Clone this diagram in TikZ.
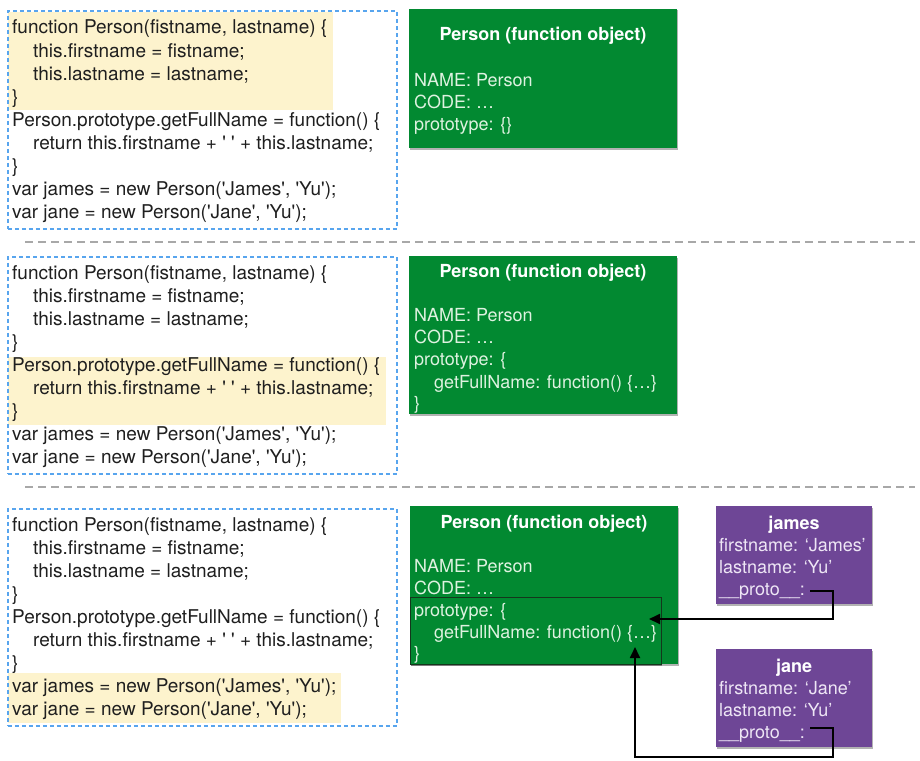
\documentclass[tikz,border=0pt]{standalone}
\usepackage{fontspec}
\newfontfamily\hv{TeX Gyre Heros}
\usetikzlibrary{arrows.meta,shadows}
\definecolor{pgreen}{RGB}{2,137,49}
\definecolor{ppurple}{RGB}{110,70,150}
\definecolor{hlyellow}{RGB}{253,243,205}
\definecolor{codeblue}{RGB}{88,165,238}
\definecolor{sepgray}{RGB}{168,168,168}
\definecolor{gtextc}{RGB}{222,242,224}
\definecolor{ptextc}{RGB}{238,230,245}
\definecolor{protoedge}{RGB}{20,55,28}
\tikzset{
  codebox/.style={rectangle, draw=codeblue, line width=1.8pt, dash pattern=on 4pt off 3pt, anchor=north west, inner sep=0pt},
  hlbox/.style={rectangle, fill=hlyellow, draw=none, anchor=north west, inner sep=0pt},
  codeline/.style={anchor=base west, inner sep=0pt, font=\hv\fontsize{19}{23}\selectfont, text=black!88},
  softshadow/.style={drop shadow={shadow xshift=0.8pt, shadow yshift=-1.3pt, opacity=0.3, fill=black}},
  gbox/.style={rectangle, fill=pgreen, anchor=north west, inner sep=0pt, softshadow},
  pbox/.style={rectangle, fill=ppurple, anchor=north west, inner sep=0pt, softshadow},
  boxtitle/.style={anchor=base, inner sep=0pt, font=\hv\bfseries\fontsize{18}{22}\selectfont, text=white},
  gtext/.style={anchor=base west, inner sep=0pt, font=\hv\fontsize{18}{22}\selectfont, text=gtextc},
  ptext/.style={anchor=base west, inner sep=0pt, font=\hv\fontsize{18}{22}\selectfont, text=ptextc},
  protobox/.style={rectangle, fill=pgreen, draw=protoedge, line width=0.9pt, anchor=north west, inner sep=0pt, softshadow},
  sepline/.style={draw=sepgray, line width=2.4pt, dash pattern=on 8pt off 5pt},
  ptr/.style={draw=black, line width=1.8pt, -{Triangle[length=11pt,width=10pt]}},
}
\newcommand\mycodelines[2]{%
  \node[codeline] (#1a) at (12,#2) {function Person(fistname, lastname) \{};
  \node[codeline] (#1b) at (33,#2+23.1) {this.firstname = fistname;};
  \node[codeline] (#1c) at (33,#2+46.2) {this.lastname = lastname;};
  \node[codeline] (#1d) at (12,#2+69.3) {\}};
  \node[codeline] (#1e) at (12,#2+92.4) {Person.prototype.getFullName = function() \{};
  \node[codeline] (#1f) at (33,#2+115.5) {return this.firstname + ' ' + this.lastname;};
  \node[codeline] (#1g) at (12,#2+138.6) {\}};
  \node[codeline] (#1h) at (12,#2+161.7) {var james = new Person('James', 'Yu');};
  \node[codeline] (#1i) at (12,#2+184.8) {var jane = new Person('Jane', 'Yu');};
}
\begin{document}
\begin{tikzpicture}[x=1pt,y=-1pt]
\useasboundingbox (0,0) rectangle (920,760);
\fill[white] (0,0) rectangle (920,760);

% ---------- section 1 ----------
\node[hlbox, minimum width=325pt, minimum height=98pt] (hl1) at (8,12) {};
\node[codebox, minimum width=389pt, minimum height=218pt] (code1) at (7,10) {};
\mycodelines{sa}{34}
\node[gbox, minimum width=268pt, minimum height=139pt] (g1) at (409,9) {};
\node[boxtitle] (g1t) at (543,41) {Person (function object)};
\node[gtext] (g1a) at (414,86) {NAME: Person};
\node[gtext] (g1b) at (414,108) {CODE: …};
\node[gtext] (g1c) at (414,130) {prototype: \{\}};

\coordinate (sep1a) at (25,242);
\coordinate (sep1b) at (915,242);
\draw[sepline] (sep1a) -- (sep1b);

% ---------- section 2 ----------
\node[hlbox, minimum width=378pt, minimum height=68pt] (hl2) at (8,357) {};
\node[codebox, minimum width=389pt, minimum height=217pt] (code2) at (7,256) {};
\mycodelines{sb}{279}
\node[gbox, minimum width=268pt, minimum height=158pt] (g2) at (409,256) {};
\node[boxtitle] (g2t) at (543,277) {Person (function object)};
\node[gtext] (g2a) at (414,321) {NAME: Person};
\node[gtext] (g2b) at (414,343) {CODE: …};
\node[gtext] (g2c) at (414,365) {prototype: \{};
\node[gtext] (g2d) at (434,388) {getFullName: function() \{…\}};
\node[gtext] (g2e) at (414,409) {\}};

\coordinate (sep2a) at (25,487);
\coordinate (sep2b) at (915,487);
\draw[sepline] (sep2a) -- (sep2b);

% ---------- section 3 ----------
\node[hlbox, minimum width=333pt, minimum height=50pt] (hl3) at (8,673) {};
\node[codebox, minimum width=389pt, minimum height=217pt] (code3) at (7,508) {};
\mycodelines{sc}{531}
\node[gbox, minimum width=268pt, minimum height=158pt] (g3) at (410,506) {};
\node[protobox, minimum width=251pt, minimum height=67pt] (proto) at (410,597) {};
\node[boxtitle] (g3t) at (544,528) {Person (function object)};
\node[gtext] (g3a) at (414,572) {NAME: Person};
\node[gtext] (g3b) at (414,594) {CODE: …};
\node[gtext] (g3c) at (414,616) {prototype: \{};
\node[gtext] (g3d) at (434,638) {getFullName: function() \{…\}};
\node[gtext] (g3e) at (414,659) {\}};

\node[pbox, minimum width=156pt, minimum height=98pt] (james) at (716,506) {};
\node[boxtitle] (jamest) at (794,529) {james};
\node[ptext] (jamesa) at (719,551) {firstname: ‘James’};
\node[ptext] (jamesb) at (719,573) {lastname: ‘Yu’};
\node[ptext] (jamesc) at (719,595) {\_\_proto\_\_:};

\node[pbox, minimum width=156pt, minimum height=98pt] (jane) at (716,649) {};
\node[boxtitle] (janet) at (794,672) {jane};
\node[ptext] (janea) at (719,694) {firstname: ‘Jane’};
\node[ptext] (janeb) at (719,716) {lastname: ‘Yu’};
\node[ptext] (janec) at (719,738) {\_\_proto\_\_:};

\coordinate (jamesP) at (810,591);
\coordinate (janeP) at (810,728);
\coordinate (tipA) at (649,619);
\coordinate (tipB) at (635,647);
\draw[ptr] (jamesP) -- ++(23,0) |- (tipA);
\draw[ptr] (janeP) -- ++(23,0) -- ++(0,29) -| (tipB);
\end{tikzpicture}
\end{document}
